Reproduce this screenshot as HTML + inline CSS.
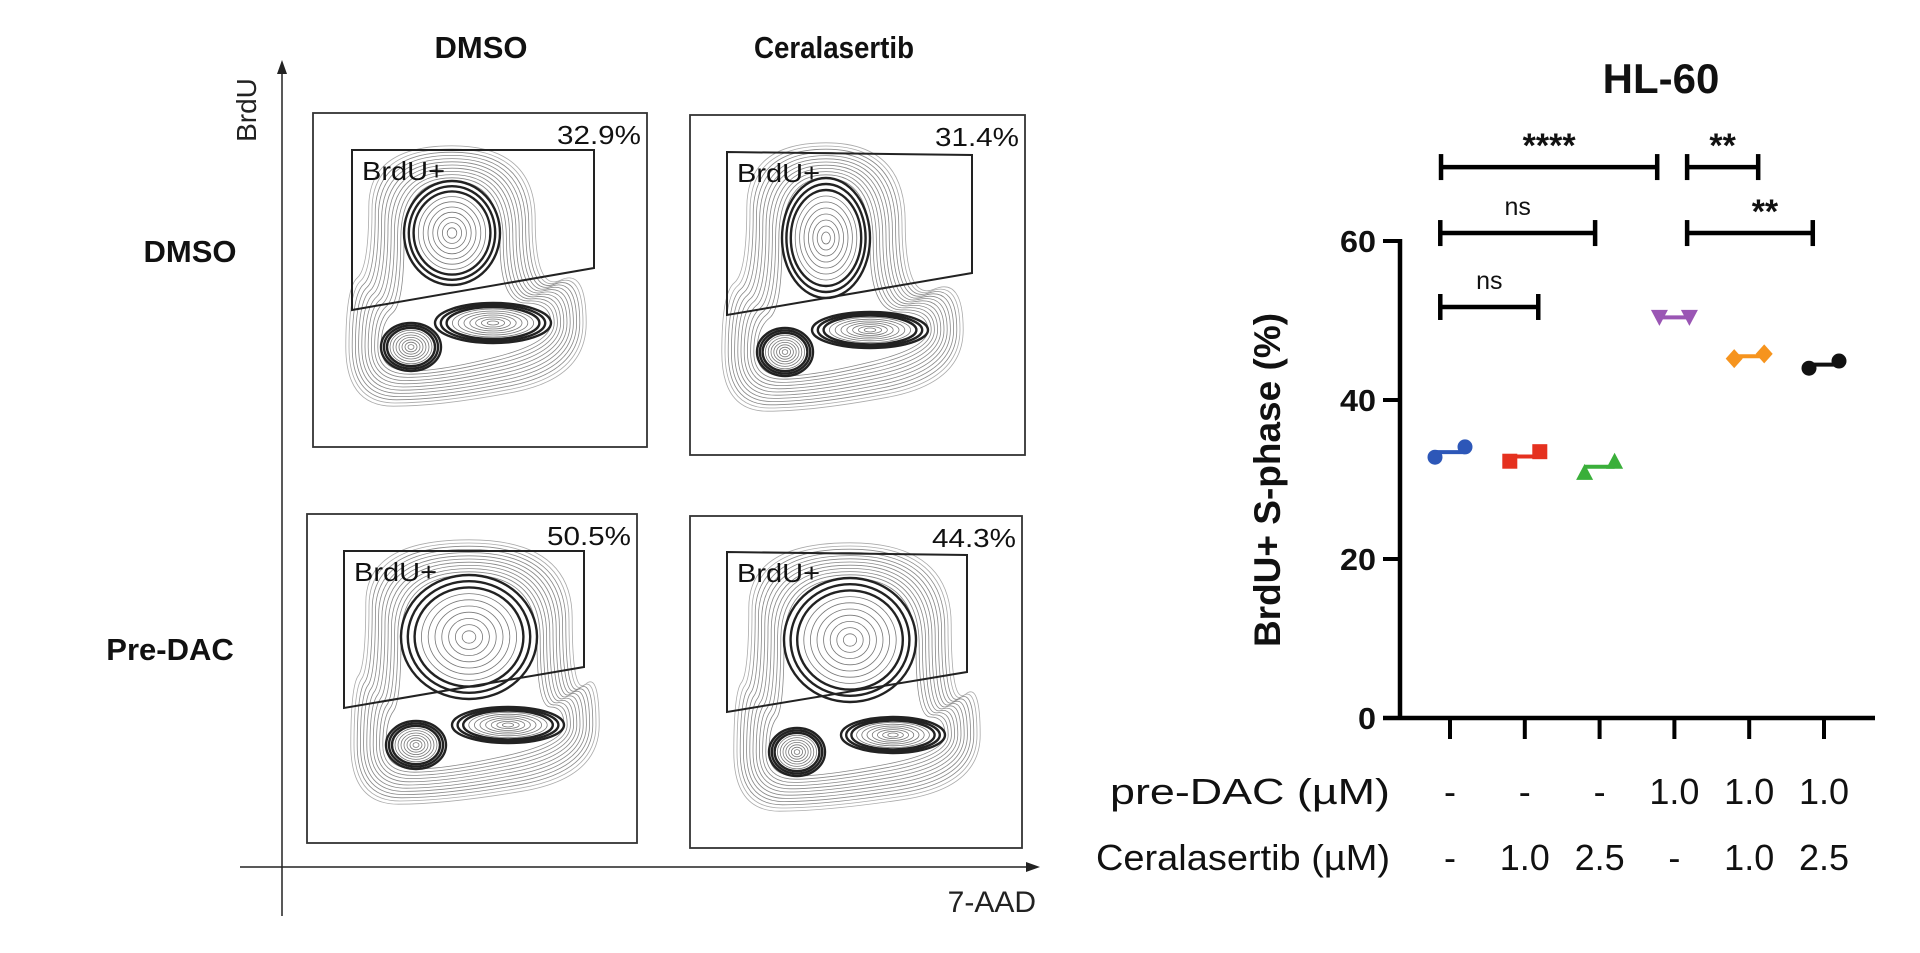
<!DOCTYPE html>
<html><head><meta charset="utf-8"><style>
html,body{margin:0;padding:0;background:#fff}
svg{display:block;font-family:"Liberation Sans",Arial,sans-serif}
</style></head><body>
<svg id="fig" width="1920" height="953" viewBox="0 0 1920 953" xmlns="http://www.w3.org/2000/svg">
<g id="left">
  <line x1="282" y1="916" x2="282" y2="72" stroke="#222" stroke-width="1.5"/>
  <polygon points="282,60 277,74 287,74" fill="#222"/>
  <line x1="240" y1="867" x2="1028" y2="867" stroke="#222" stroke-width="1.5"/>
  <polygon points="1040,867 1026,862 1026,872" fill="#222"/>
  <text transform="translate(256,110) rotate(-90)" text-anchor="middle" font-size="28" fill="#222">BrdU</text>
  <text x="1036" y="912" text-anchor="end" font-size="30" fill="#222">7-AAD</text>
  <text x="481" y="58" text-anchor="middle" font-size="31" font-weight="bold" fill="#111">DMSO</text>
  <text x="834" y="58" text-anchor="middle" font-size="31" font-weight="bold" fill="#111" textLength="160" lengthAdjust="spacingAndGlyphs">Ceralasertib</text>
  <text x="190" y="262" text-anchor="middle" font-size="31" font-weight="bold" fill="#111">DMSO</text>
  <text x="170" y="660" text-anchor="middle" font-size="31" font-weight="bold" fill="#111">Pre-DAC</text>
</g>
<g id="right"></g>
</svg>
<script>
// ---------- chart data ----------
const groups = ["g1","g2","g3","g4","g5","g6"];
const preDacLabels = ["-","-","-","1.0","1.0","1.0"];
const ceralLabels = ["-","1.0","2.5","-","1.0","2.5"];
const rep1 = [32.8, 32.3, 30.9, 50.4, 45.2, 44.0];
const rep2 = [34.1, 33.5, 32.3, 50.4, 45.8, 44.9];
const yTicks = [0, 20, 40, 60];
const colors = ["#2d57b8","#e5311f","#3aaf3a","#9a56b4","#f6941e","#111111"];
const markers = ["circle","square","triangle","triangle-down","diamond","circle"];
const bracketStart = [-0.12, 3.17, -0.13, 3.17, -0.13];
const bracketEnd = [2.77, 4.12, 1.94, 4.85, 1.18];
const bracketLevel = [69.3, 69.3, 61.0, 61.0, 51.7];
const bracketLabels = ["****","**","ns","**","ns"];
// flow panel data
const panelPercent = ["32.9%","31.4%","50.5%","44.3%"];

const NS="http://www.w3.org/2000/svg";
function mk(tag, attrs, parent){const e=document.createElementNS(NS,tag);for(const k in attrs)e.setAttribute(k,attrs[k]);parent.appendChild(e);return e;}
const R=document.getElementById('right');
const X0=1450, DX=74.8, Y0=718, PY=7.95;
const xs=i=>X0+i*DX, ys=v=>Y0-v*PY;

let t=mk('text',{x:1661,y:93,'text-anchor':'middle','font-size':42,'font-weight':'bold',fill:'#111'},R);


t.textContent='HL-60';

let yt=mk('text',{transform:'translate(1280,480) rotate(-90)','text-anchor':'middle','font-size':37,'font-weight':'bold',fill:'#111'},R);


yt.textContent='BrdU+ S-phase (%)';

let ya=mk('line',{x1:1400,y1:ys(60)-2,x2:1400,y2:Y0+2,stroke:'#000','stroke-width':4.5},R);


let xa=mk('line',{x1:1383,y1:Y0,x2:1875,y2:Y0,stroke:'#000','stroke-width':4.5},R);


yTicks.forEach(v=>{
  let l=mk('line',{x1:1383,y1:ys(v),x2:1400,y2:ys(v),stroke:'#000','stroke-width':4},R);
  
  
  let tx=mk('text',{x:1376,y:ys(v)+11,'text-anchor':'end','font-size':31,'font-weight':'bold',fill:'#111',textLength:v===0?18:36,lengthAdjust:'spacingAndGlyphs'},R);
  
  
  tx.textContent=v;
});
groups.forEach((g,i)=>{
  let l=mk('line',{x1:xs(i),y1:Y0,x2:xs(i),y2:Y0+21,stroke:'#000','stroke-width':4},R);
  
  
  let a=mk('text',{x:xs(i),y:804,'text-anchor':'middle','font-size':36,fill:'#111'},R);
  
  
  a.textContent=preDacLabels[i];
  let b=mk('text',{x:xs(i),y:870,'text-anchor':'middle','font-size':36,fill:'#111'},R);
  
  
  b.textContent=ceralLabels[i];
});
let r1=mk('text',{x:1390,y:804,'text-anchor':'end','font-size':36,fill:'#111',textLength:280,lengthAdjust:'spacingAndGlyphs'},R);


r1.textContent='pre-DAC (µM)';
let r2=mk('text',{x:1390,y:870,'text-anchor':'end','font-size':36,fill:'#111',textLength:294,lengthAdjust:'spacingAndGlyphs'},R);


r2.textContent='Ceralasertib (µM)';

function marker(type,x,y,c){
  const s=7.5;let e;
  if(type==='circle')e=mk('circle',{cx:x,cy:y,r:s},R);
  else if(type==='square')e=mk('rect',{x:x-s,y:y-s,width:2*s,height:2*s},R);
  else if(type==='triangle')e=mk('polygon',{points:`${x},${y-s-1} ${x-s-1},${y+s} ${x+s+1},${y+s}`},R);
  else if(type==='triangle-down')e=mk('polygon',{points:`${x},${y+s+1} ${x-s-1},${y-s} ${x+s+1},${y-s}`},R);
  else e=mk('polygon',{points:`${x},${y-s-2} ${x+s+1},${y} ${x},${y+s+2} ${x-s-1},${y}`},R);
  e.setAttribute('fill',c);
  return e;
}
groups.forEach((g,i)=>{
  const m=(rep1[i]+rep2[i])/2;
  let l=mk('line',{x1:xs(i)-15,y1:ys(m),x2:xs(i)+15,y2:ys(m),stroke:colors[i],'stroke-width':4},R);
  
  
  let p1=marker(markers[i],xs(i)-15,ys(rep1[i]),colors[i]);
  
  
  let p2=marker(markers[i],xs(i)+15,ys(rep2[i]),colors[i]);
  
  
});
bracketLabels.forEach((lab,k)=>{
  const a=xs(bracketStart[k]),b=xs(bracketEnd[k]),y=ys(bracketLevel[k]);
  let g=mk('g',{stroke:'#000','stroke-width':4.5},R);
  
  
  mk('line',{x1:a,y1:y,x2:b,y2:y},g);
  mk('line',{x1:a,y1:y-13,x2:a,y2:y+13},g);
  mk('line',{x1:b,y1:y-13,x2:b,y2:y+13},g);
  const star=lab.indexOf('*')>=0;
  let tx=mk('text',{x:(a+b)/2+(k===3?15:0),y:star?y-10:y-18,'text-anchor':'middle','font-size':star?34:25,'font-weight':star?'bold':'normal',fill:'#111'},R);
  
  
  tx.textContent=lab;
});

// ---------- flow panels ----------
const L=document.getElementById('left');
const boxes=[[313,113,334,334],[690,115,335,340],[307,514,330,329],[690,516,332,332]];
const gates=[[352,150,594,150,594,268,352,310],[727,152,972,155,972,273,727,315],[344,551,584,551,584,667,344,708],[727,552,967,555,967,672,727,712]];
const blobs=[
 [[452,233,48,52],[411,347,30,24],[493,323,58,20]],
 [[826,238,44,60],[785,352,28,24],[870,330,58,18]],
 [[469,637,68,62],[416,745,30,24],[508,725,56,18]],
 [[850,640,66,62],[797,752,28,24],[893,735,52,18]]];
function smoothPath(pts){
  let d='';const n=pts.length;
  for(let i=0;i<n;i++){
    const p=pts[i],q=pts[(i+1)%n];
    const mx=(p[0]+q[0])/2,my=(p[1]+q[1])/2;
    if(i===0){const z=pts[n-1];d+=`M${(z[0]+p[0])/2},${(z[1]+p[1])/2} `;}
    d+=`Q${p[0]},${p[1]} ${mx},${my} `;
  }
  return d+'Z';
}
boxes.forEach((b,i)=>{
  let r=mk('rect',{x:b[0],y:b[1],width:b[2],height:b[3],fill:'none',stroke:'#333','stroke-width':1.8},L);
  
  
  const cg=mk('g',{fill:'none'},L);
  
  
  const U=blobs[i][0],G1=blobs[i][1],G2=blobs[i][2];
  const cx=(U[0]+G2[0])/2, cy=(U[1]+G1[1])/2;
  for(let k=0;k<12;k++){
    const o=k*3.2;
    const pts=[[U[0]-U[2]-o,U[1]-U[3]-o],[U[0]+U[2]+o,U[1]-U[3]-o],[U[0]+U[2]+o,G2[1]-G2[3]-o*0.3],[G2[0]+G2[2]+o,G2[1]-G2[3]-o],[G2[0]+G2[2]+o,G2[1]+G2[3]+o],[G1[0]+G1[2],G1[1]+G1[3]+o],[G1[0]-G1[2]-o,G1[1]+G1[3]+o],[G1[0]-G1[2]-o,G1[1]-G1[3]-o],[U[0]-U[2]-o,G1[1]-G1[3]-20-o]];
    mk('path',{d:smoothPath(pts),stroke:k>9?'#aaa':'#888','stroke-width':0.8},cg);
  }
  blobs[i].forEach((e,j)=>{
    for(let k=0;k<10;k++){
      const dark=(j===0&&k>=0&&k<=2)||(j===1&&k<=2)||(j===2&&k<=2);
      mk('ellipse',{cx:e[0],cy:e[1],rx:Math.max(2,e[2]-k*e[2]/10),ry:Math.max(2,e[3]-k*e[3]/10),stroke:dark?'#222':'#777','stroke-width':dark?2.4:0.8},cg);
    }
  });
  const gt=gates[i];
  let p=mk('polygon',{points:`${gt[0]},${gt[1]} ${gt[2]},${gt[3]} ${gt[4]},${gt[5]} ${gt[6]},${gt[7]}`,fill:'none',stroke:'#222','stroke-width':2},L);
  
  
  let gl=mk('text',{x:gt[0]+10,y:gt[1]+30,'font-size':26,fill:'#111',textLength:83,lengthAdjust:'spacingAndGlyphs'},L);
  
  
  gl.textContent='BrdU+';
  let pc=mk('text',{x:b[0]+b[2]-6,y:b[1]+31,'text-anchor':'end','font-size':26,fill:'#111',textLength:84,lengthAdjust:'spacingAndGlyphs'},L);
  
  
  pc.textContent=panelPercent[i];
});
</script>
</body></html>
